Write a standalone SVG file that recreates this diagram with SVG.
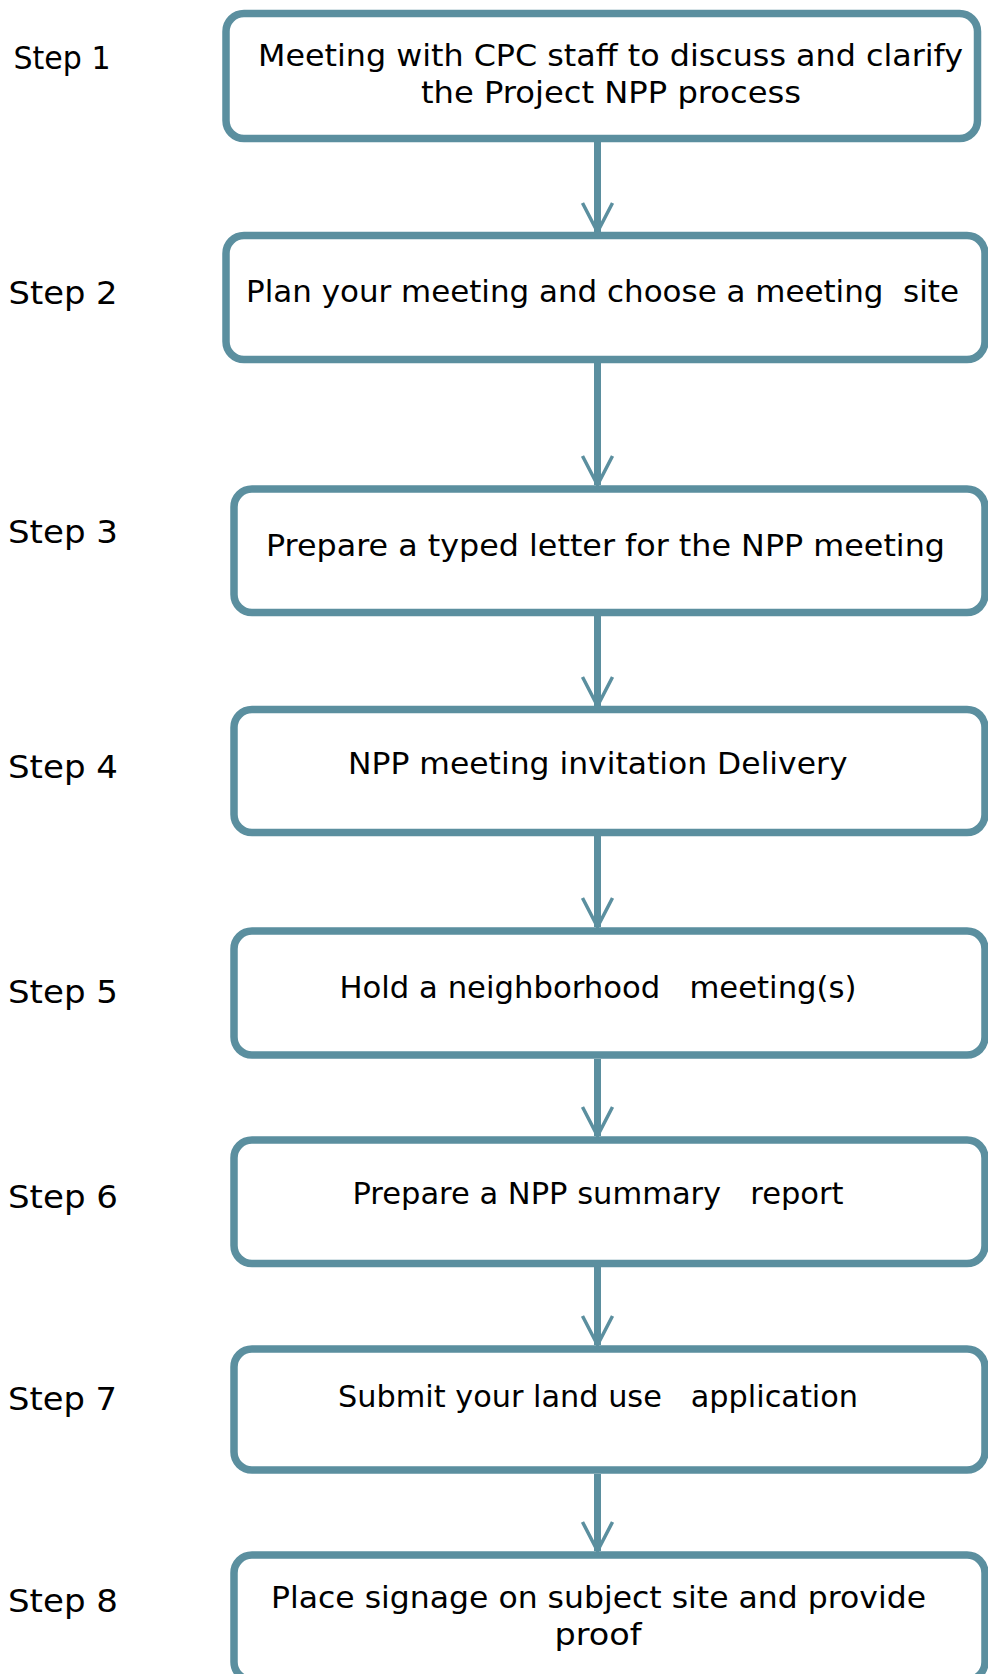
<svg xmlns="http://www.w3.org/2000/svg" width="988" height="1674" viewBox="0 0 988 1674">
<defs>
<style>
.box{fill:#ffffff;stroke:#5B8F9F;stroke-width:7.5}
.t{font-family:"DejaVu Sans","Liberation Sans",sans-serif;font-size:30px;fill:#000000;white-space:pre}
.step{font-size:32px}
.conn{stroke:#5B8F9F;stroke-width:7;fill:none}
</style>
<marker id="arr" markerUnits="userSpaceOnUse" orient="auto" refX="0" refY="0" markerWidth="40" markerHeight="40" style="overflow:visible">
<path d="M-29,-15 L0,0 L-29,15" fill="none" stroke="#5B8F9F" stroke-width="3.5"/>
</marker>
</defs>
<rect x="0" y="0" width="988" height="1674" fill="#ffffff"/>

<g id="connectors">
<line class="conn" x1="597.5" y1="142" x2="597.5" y2="232" marker-end="url(#arr)"/>
<line class="conn" x1="597.5" y1="363" x2="597.5" y2="485" marker-end="url(#arr)"/>
<line class="conn" x1="597.5" y1="616" x2="597.5" y2="706" marker-end="url(#arr)"/>
<line class="conn" x1="597.5" y1="836" x2="597.5" y2="927" marker-end="url(#arr)"/>
<line class="conn" x1="597.5" y1="1059" x2="597.5" y2="1136" marker-end="url(#arr)"/>
<line class="conn" x1="597.5" y1="1267" x2="597.5" y2="1345" marker-end="url(#arr)"/>
<line class="conn" x1="597.5" y1="1474" x2="597.5" y2="1551" marker-end="url(#arr)"/>
</g>

<g id="step1">
<text class="t step" x="13.5" y="69" textLength="97" lengthAdjust="spacingAndGlyphs">Step 1</text>
<rect class="box" x="226" y="13.5" width="751.5" height="125" rx="18" ry="18"/>
<text class="t" x="258" y="66" textLength="705" lengthAdjust="spacingAndGlyphs">Meeting with CPC staff to discuss and clarify</text>
<text class="t" x="421" y="103" textLength="380" lengthAdjust="spacingAndGlyphs">the Project NPP process</text>
</g>

<g id="step2">
<text class="t step" x="8.5" y="304" textLength="109" lengthAdjust="spacingAndGlyphs">Step 2</text>
<rect class="box" x="226" y="235.5" width="759" height="124" rx="18" ry="18"/>
<text class="t" x="246" y="302" textLength="713" lengthAdjust="spacingAndGlyphs">Plan your meeting and choose a meeting  site</text>
</g>

<g id="step3">
<text class="t step" x="8" y="543" textLength="110" lengthAdjust="spacingAndGlyphs">Step 3</text>
<rect class="box" x="234" y="489" width="751" height="123.5" rx="18" ry="18"/>
<text class="t" x="266" y="556" textLength="679" lengthAdjust="spacingAndGlyphs">Prepare a typed letter for the NPP meeting</text>
</g>

<g id="step4">
<text class="t step" x="8" y="778" textLength="110" lengthAdjust="spacingAndGlyphs">Step 4</text>
<rect class="box" x="234" y="709.5" width="751" height="123" rx="18" ry="18"/>
<text class="t" x="348" y="774" textLength="499.5" lengthAdjust="spacingAndGlyphs">NPP meeting invitation Delivery</text>
</g>

<g id="step5">
<text class="t step" x="8" y="1003" textLength="110" lengthAdjust="spacingAndGlyphs">Step 5</text>
<rect class="box" x="234" y="931" width="751" height="124" rx="18" ry="18"/>
<text class="t" x="339.5" y="997.5" textLength="517" lengthAdjust="spacingAndGlyphs">Hold a neighborhood   meeting(s)</text>
</g>

<g id="step6">
<text class="t step" x="8" y="1208" textLength="110" lengthAdjust="spacingAndGlyphs">Step 6</text>
<rect class="box" x="234" y="1140" width="751" height="123.5" rx="18" ry="18"/>
<text class="t" x="352.5" y="1203.5" textLength="491" lengthAdjust="spacingAndGlyphs">Prepare a NPP summary   report</text>
</g>

<g id="step7">
<text class="t step" x="8" y="1410" textLength="109" lengthAdjust="spacingAndGlyphs">Step 7</text>
<rect class="box" x="234" y="1349" width="751" height="121" rx="18" ry="18"/>
<text class="t" x="338" y="1406.5" textLength="520" lengthAdjust="spacingAndGlyphs">Submit your land use   application</text>
</g>

<g id="step8">
<text class="t step" x="8" y="1611.5" textLength="110" lengthAdjust="spacingAndGlyphs">Step 8</text>
<rect class="box" x="234" y="1555" width="751" height="125" rx="18" ry="18"/>
<text class="t" x="271" y="1608" textLength="655" lengthAdjust="spacingAndGlyphs">Place signage on subject site and provide</text>
<text class="t" x="554.5" y="1645" textLength="87" lengthAdjust="spacingAndGlyphs">proof</text>
</g>
</svg>
